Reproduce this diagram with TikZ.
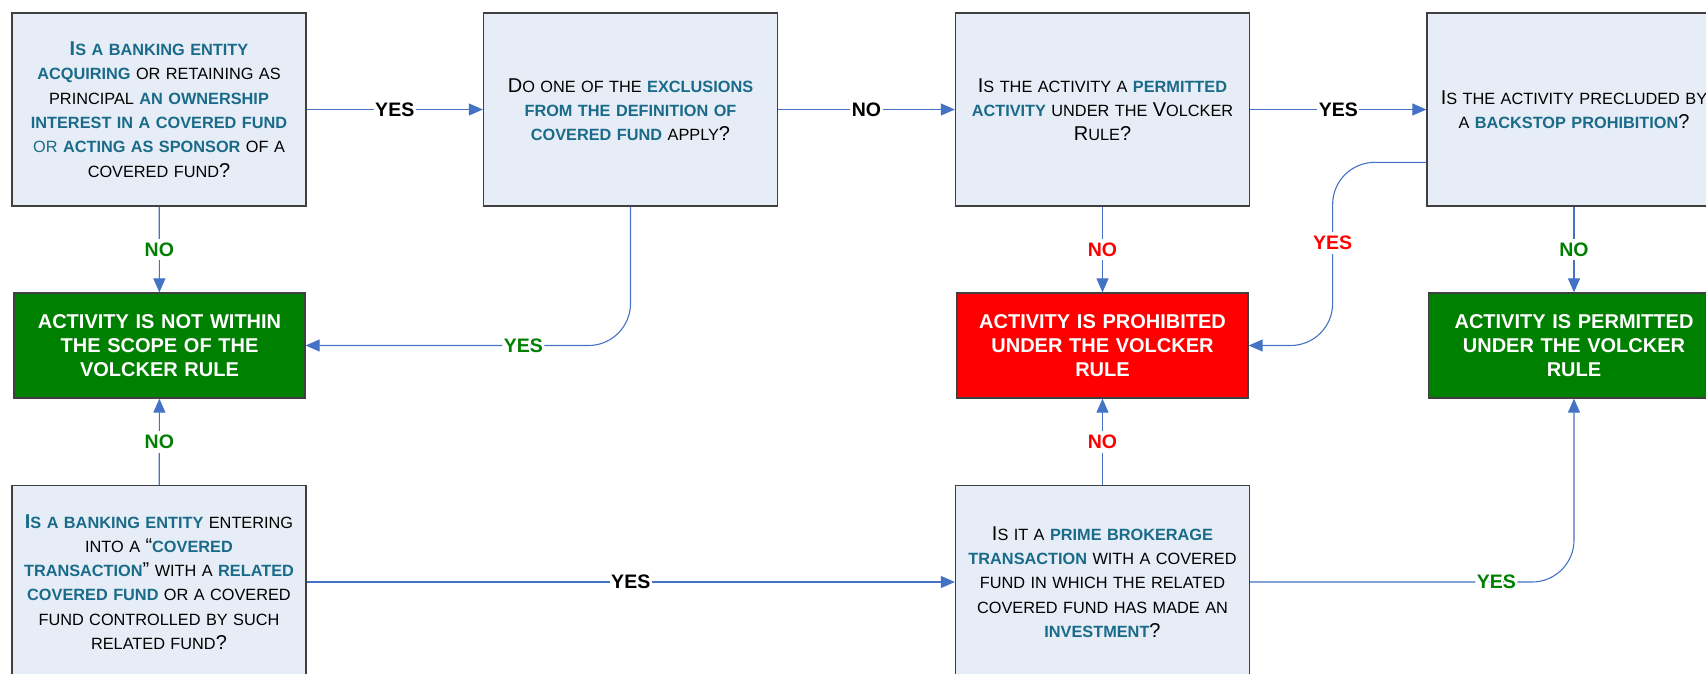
\documentclass[tikz,border=0pt]{standalone}
\usepackage{fontspec}
\setmainfont{Liberation Sans}
\usetikzlibrary{arrows.meta,calc}

\definecolor{qfill}{HTML}{E7EDF6}
\definecolor{qteal}{HTML}{1A6B89}
\definecolor{okgreen}{HTML}{008000}
\definecolor{nored}{HTML}{FF0000}
\definecolor{linkblue}{HTML}{4472C4}
\definecolor{edge}{HTML}{404040}

% small-caps look: large initial capitals, highlighted terms
\newcommand\Bg[1]{{\fontsize{20}{24.3}\selectfont #1}}
\newcommand\hl[1]{{\bfseries\color{qteal}#1}}
\newcommand\tl[1]{{\color{qteal}#1}}

\tikzset{
  question/.style={draw=edge, line width=1.3pt, fill=qfill,
    minimum width=294pt, minimum height=193pt, inner sep=0pt,
    align=center, text width=285pt,
    font=\fontsize{16.3}{24.3}\selectfont},
  outcome/.style={draw=edge, line width=1.3pt,
    minimum width=291pt, minimum height=105pt, inner sep=0pt,
    align=center, text width=280pt, text=white,
    font=\bfseries\fontsize{20}{24}\selectfont},
  conn/.style={draw=linkblue, line width=1.1pt,
    -{Triangle[length=14pt,width=12pt]}},
  lbl/.style={fill=white, inner xsep=1.5pt, inner ysep=4pt,
    font=\bfseries\fontsize{19.5}{21}\selectfont},
}

\begin{document}
\begin{tikzpicture}[x=1pt,y=-1pt]
\useasboundingbox (0,0) rectangle (1706,673);
\clip (0,0) rectangle (1706,673);

% question boxes, top row
\node[question] (b1) at (159,109.5) {%
  \hl{\Bg{I}S A BANKING ENTITY}\\
  \hl{ACQUIRING} OR RETAINING AS\\
  PRINCIPAL \hl{AN OWNERSHIP}\\
  \hl{INTEREST IN A COVERED FUND}\\
  \tl{OR} \hl{ACTING AS SPONSOR} OF A\\
  COVERED FUND\Bg{?}};
\node[question] (b2) at (630.5,109.5) {%
  \Bg{D}O ONE OF THE \hl{EXCLUSIONS}\\
  \hl{FROM THE DEFINITION OF}\\
  \hl{COVERED FUND} APPLY\Bg{?}};
\node[question] (b3) at (1102.5,109.5) {%
  \Bg{I}S THE ACTIVITY A \hl{PERMITTED}\\
  \hl{ACTIVITY} UNDER THE \Bg{V}OLCKER\\
  \Bg{R}ULE\Bg{?}};
\node[question] (b4) at (1574,109.5) {%
  \Bg{I}S THE ACTIVITY PRECLUDED BY\\
  A \hl{BACKSTOP PROHIBITION}\Bg{?}};

% outcome boxes
\node[outcome, fill=okgreen] (g1) at (159.5,345.5)
  {ACTIVITY IS NOT WITHIN\\THE SCOPE OF THE\\VOLCKER RULE};
\node[outcome, fill=nored] (rd) at (1102.5,345.5)
  {ACTIVITY IS PROHIBITED\\UNDER THE VOLCKER\\RULE};
\node[outcome, fill=okgreen] (g2) at (1574,345.5)
  {ACTIVITY IS PERMITTED\\UNDER THE VOLCKER\\RULE};

% question boxes, bottom row
\node[question] (r1) at (159,582) {%
  \hl{\Bg{I}S A BANKING ENTITY} ENTERING\\
  INTO A \Bg{“}\hl{COVERED}\\
  \hl{TRANSACTION}\Bg{”} WITH A \hl{RELATED}\\
  \hl{COVERED FUND} OR A COVERED\\
  FUND CONTROLLED BY SUCH\\
  RELATED FUND\Bg{?}};
\node[question] (pr) at (1102.5,582) {%
  \Bg{I}S IT A \hl{PRIME BROKERAGE}\\
  \hl{TRANSACTION} WITH A COVERED\\
  FUND IN WHICH THE RELATED\\
  COVERED FUND HAS MADE AN\\
  \hl{INVESTMENT}\Bg{?}};

\coordinate (b4port) at ($(b4.north west)+(0,150)$);

% connectors
\draw[conn] (b1) -- node[lbl]{YES} (b2);
\draw[conn] (b2) -- node[lbl]{NO} (b3);
\draw[conn] (b3) -- node[lbl]{YES} (b4);
\draw[conn] (b1) -- node[lbl, text=okgreen]{NO} (g1);
\draw[conn] (b3) -- node[lbl, text=nored]{NO} (rd);
\draw[conn] (b4) -- node[lbl, text=okgreen]{NO} (g2);
\draw[conn, rounded corners=42pt] (b2.south) |-
  node[lbl, text=okgreen, pos=0.665]{YES} (g1.east);
\draw[conn, rounded corners=42pt] (b4port) -|
  node[lbl, text=nored, pos=0.72]{YES} ($(rd.east)+(84,0)$) -- (rd.east);
\draw[conn] (r1) -- node[lbl, text=okgreen]{NO} (g1);
\draw[conn] (pr) -- node[lbl, text=nored]{NO} (rd);
\draw[conn] (r1) -- node[lbl]{YES} (pr);
\draw[conn, rounded corners=42pt] (pr.east) -|
  node[lbl, text=okgreen, pos=0.38]{YES} (g2.south);
\end{tikzpicture}
\end{document}
